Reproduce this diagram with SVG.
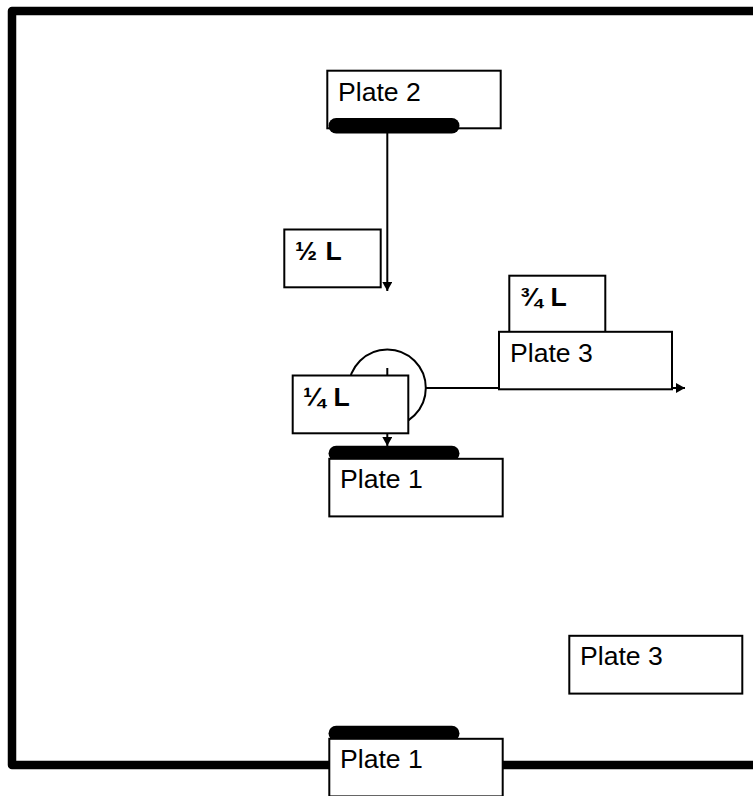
<svg xmlns="http://www.w3.org/2000/svg" width="753" height="796" viewBox="0 0 753 796">
<style>
.b{fill:#fff;stroke:#000;stroke-width:2}
.p{fill:#000;stroke:none}
.c{fill:none;stroke:#000;stroke-width:2}
text{font-family:"Liberation Sans",Arial,sans-serif;fill:#000}
.t{font-size:26.6px}
.f{font-size:26.6px;font-weight:bold;word-spacing:1px}
</style>
<defs>
<marker id="a" markerUnits="userSpaceOnUse" markerWidth="10" markerHeight="10" refX="9" refY="5" orient="auto"><path d="M0 0L9 5L0 10Z" fill="#000"/></marker>
</defs>
<rect width="753" height="796" fill="#fff"/>
<path id="frame" d="M753 11H12V765H753" fill="none" stroke="#000" stroke-width="8.5" stroke-linejoin="round"/>
<g id="connectors">
<path class="c" d="M387.3 133V291" marker-end="url(#a)"/>
<circle class="c" cx="387.3" cy="388" r="38.5"/>
<path class="c" d="M387.3 368V446" marker-end="url(#a)"/>
<path class="c" d="M426 388H685" marker-end="url(#a)"/>
</g>
<g id="plate2-top"><rect class="b" x="327.3" y="70.7" width="173.4" height="57.6"/><rect class="p" x="328.5" y="118" width="131" height="15.5" rx="7.7"/><text class="t" x="338" y="100.5">Plate 2</text></g>
<g id="half-l"><rect class="b" x="284.3" y="229.5" width="96.4" height="57.8"/><text class="f" x="295" y="260">½ L</text></g>
<g id="three-quarter-l"><rect class="b" x="509.3" y="275.7" width="96" height="57"/><text class="f" x="520" y="306">¾ L</text></g>
<g id="plate3-mid"><rect class="b" x="499" y="331.8" width="173" height="57.5"/><text class="t" x="510" y="362">Plate 3</text></g>
<g id="quarter-l"><rect class="b" x="292.7" y="375.5" width="115.6" height="57.8"/><text class="f" x="303" y="405.5">¼ L</text></g>
<g id="plate1-mid"><rect class="p" x="328.5" y="445.8" width="131" height="15.5" rx="7.7"/><rect class="b" x="329.3" y="458.8" width="173.4" height="57.6"/><text class="t" x="340" y="488">Plate 1</text></g>
<g id="plate3-low"><rect class="b" x="569.3" y="635.8" width="173" height="57.8"/><text class="t" x="580" y="665">Plate 3</text></g>
<g id="plate1-low"><rect class="p" x="328.5" y="725.8" width="131" height="15.5" rx="7.7"/><rect class="b" x="329.3" y="738.8" width="173.4" height="57.6"/><text class="t" x="340" y="768">Plate 1</text></g>
</svg>
